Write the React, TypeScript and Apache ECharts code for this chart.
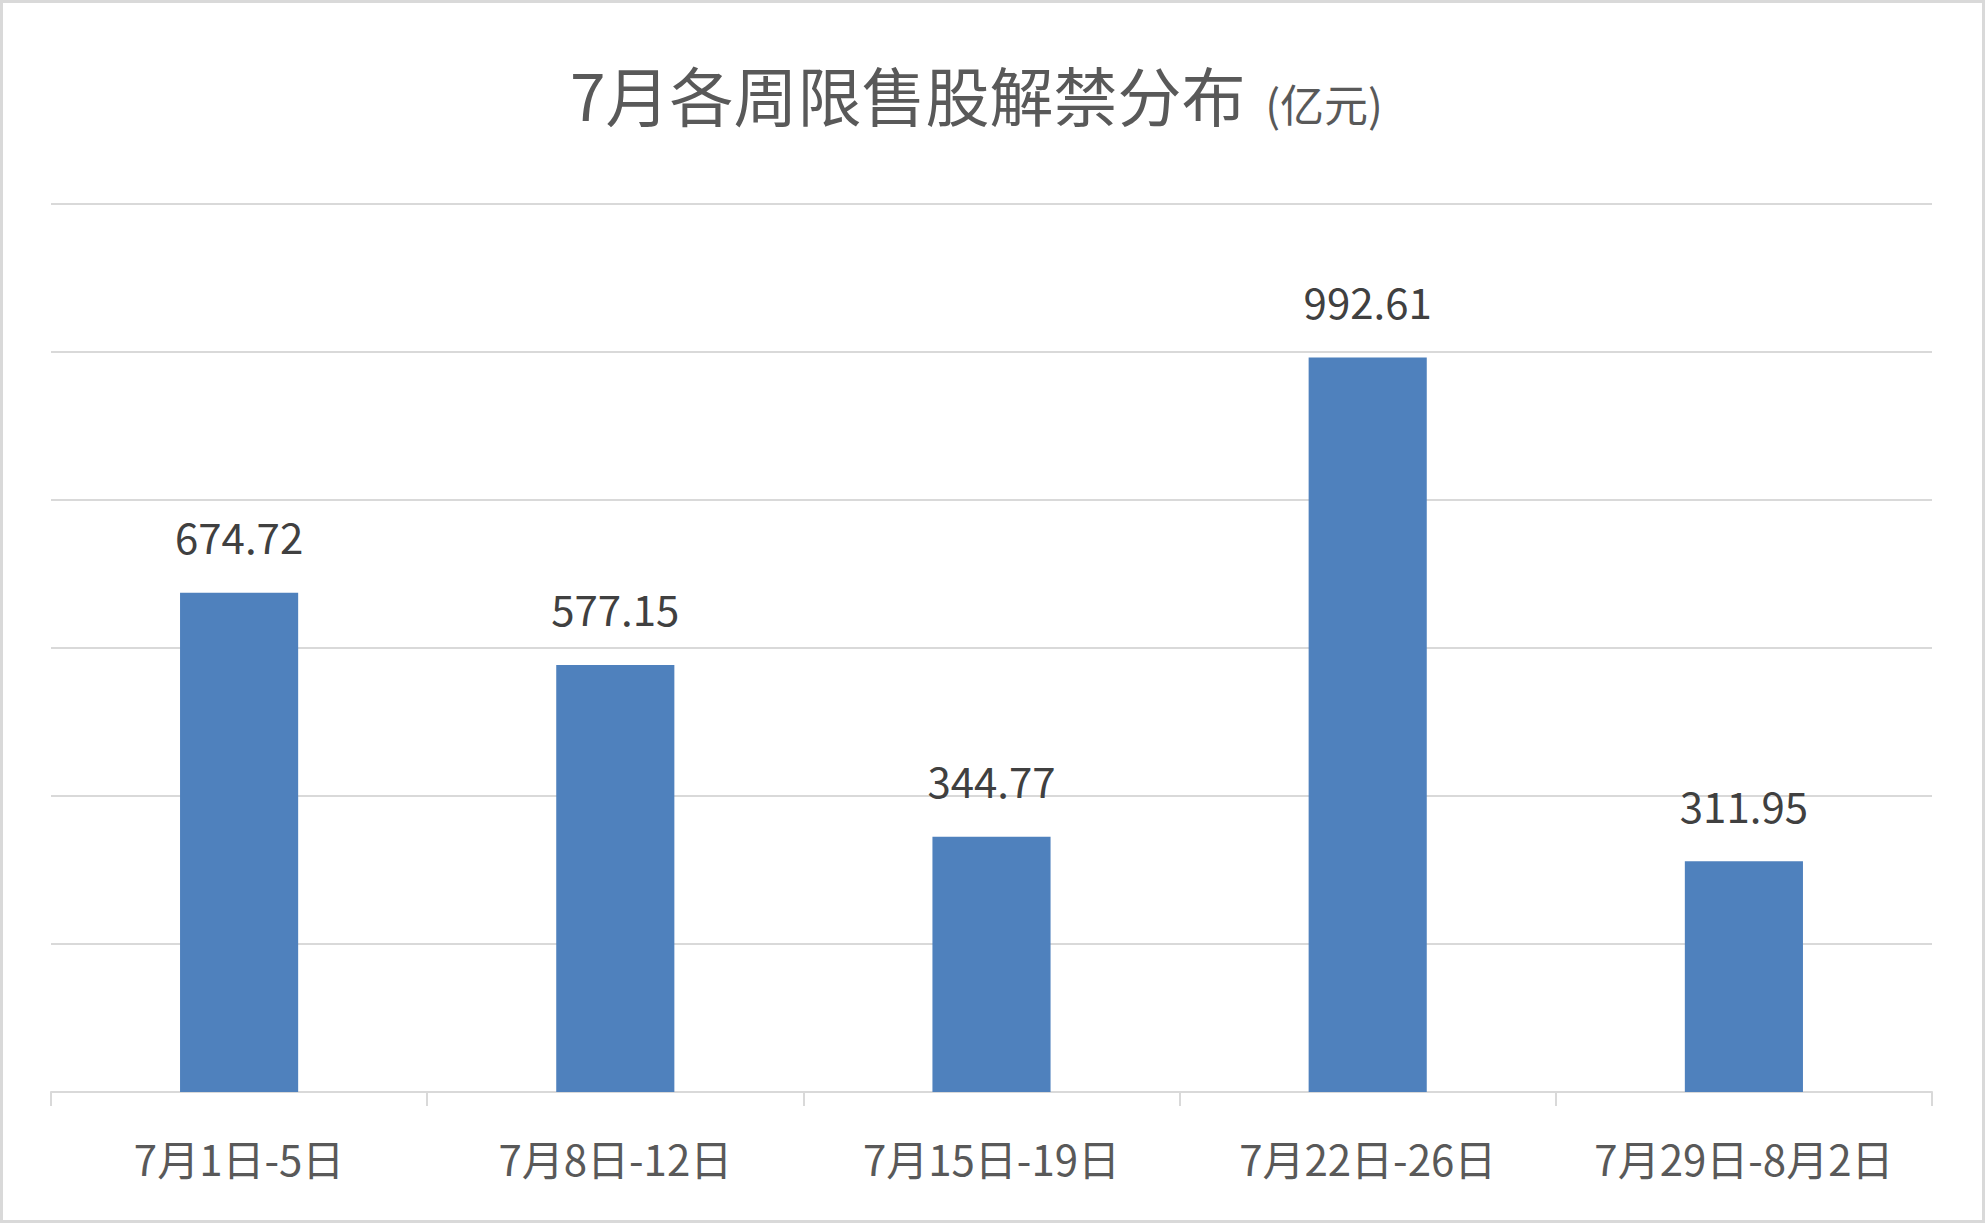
import { useEffect, useRef } from 'react';
import * as echarts from 'echarts';

const categories = ['7月1日-5日', '7月8日-12日', '7月15日-19日', '7月22日-26日', '7月29日-8月2日'];
const unlockValues = [674.72, 577.15, 344.77, 992.61, 311.95];

const titleMain = '7月各周限售股解禁分布';
const titleUnit = '  (亿元)';

const FONT = '"Noto Sans CJK SC", "Noto Sans", sans-serif';

export default function App() {
  const chartRef = useRef<HTMLDivElement | null>(null);

  useEffect(() => {
    const element = chartRef.current;
    if (!element) {
      return;
    }

    const chart = echarts.init(element, undefined, { renderer: 'svg' });
    chart.setOption({
      animation: false,
      backgroundColor: '#ffffff',
      textStyle: { fontFamily: FONT },
      title: {
        text: `{a|${titleMain}}{b|${titleUnit}}`,
        left: 570,
        top: 61,
        padding: 0,
        textStyle: {
          fontWeight: 'normal',
          rich: {
            a: { fontSize: 64, lineHeight: 64, color: '#595959', fontFamily: FONT, fontWeight: 'normal' },
            b: {
              fontSize: 44,
              lineHeight: 50,
              color: '#595959',
              fontFamily: FONT,
              fontWeight: 'normal',
              verticalAlign: 'bottom',
            },
          },
        },
      },
      graphic: [
        {
          type: 'rect',
          shape: { x: 1.5, y: 1.5, width: 1982, height: 1220 },
          style: { fill: 'none', stroke: '#d9d9d9', lineWidth: 3 },
          silent: true,
        },
      ],
      grid: {
        left: 51,
        right: 53,
        top: 204,
        bottom: 131,
      },
      xAxis: {
        type: 'category',
        data: categories,
        axisLine: { lineStyle: { color: '#d9d9d9', width: 2 } },
        axisTick: { show: true, interval: 0, length: 14, lineStyle: { color: '#d9d9d9', width: 2 } },
        axisLabel: {
          interval: 0,
          hideOverlap: false,
          color: '#595959',
          fontSize: 42,
          margin: 44,
          fontFamily: FONT,
        },
      },
      yAxis: {
        type: 'value',
        min: 0,
        max: 1200,
        interval: 200,
        axisLabel: { show: false },
        axisLine: { show: false },
        axisTick: { show: false },
        splitLine: { lineStyle: { color: '#d9d9d9', width: 2 } },
      },
      series: [
        {
          type: 'bar',
          data: unlockValues,
          barWidth: '31.4%',
          itemStyle: { color: '#4f81bd' },
          label: {
            show: true,
            position: 'top',
            distance: 36,
            color: '#404040',
            fontSize: 42,
            fontFamily: FONT,
            formatter: (p: { value: number }) => p.value.toFixed(2),
          },
        },
      ],
    });

    return () => {
      chart.dispose();
    };
  }, []);

  return (
    <div
      style={{
        position: 'fixed',
        left: 0,
        top: 0,
        width: 1985,
        height: 1223,
        background: '#ffffff',
      }}
    >
      <div ref={chartRef} style={{ width: 1985, height: 1223 }} />
    </div>
  );
}
